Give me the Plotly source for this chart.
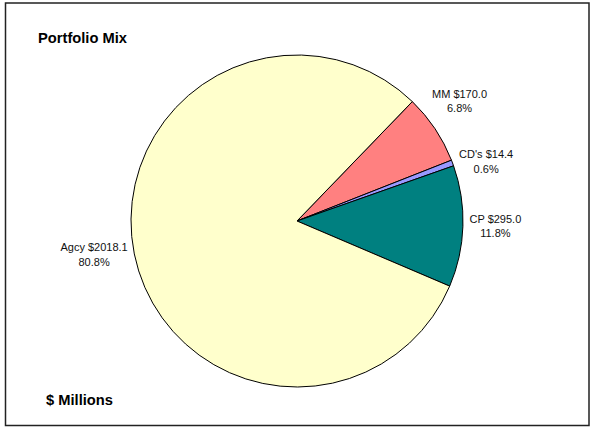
import plotly.graph_objects as go

labels = ["MM", "CD's", "CP", "Agcy"]
values = [170.0, 14.4, 295.0, 2018.1]
colors = ["#FF8080", "#9999FF", "#008080", "#FFFFCC"]
title_text = "Portfolio Mix"
footer_text = "$ Millions"

W, H = 591, 428
cx, cy, r = 297, 221, 166
FONT = "Liberation Sans, Arial"

total = sum(values)
texts = [f"{l} ${v:.1f}<br>{v / total * 100:.1f}%" for l, v in zip(labels, values)]
# MM label is placed by annotation (Excel places it higher than plotly's auto position)
textpos = ["none", "outside", "outside", "outside"]

fig = go.Figure(go.Pie(
    labels=labels,
    values=values,
    text=texts,
    textinfo="text",
    textposition=textpos,
    sort=False,
    direction="clockwise",
    rotation=44,
    marker=dict(colors=colors, line=dict(color="black", width=1)),
    outsidetextfont=dict(family=FONT, size=11, color="#111111"),
    domain=dict(x=[(cx - r) / W, (cx + r) / W], y=[(H - cy - r) / H, (H - cy + r) / H]),
    automargin=False,
    showlegend=False,
    hoverinfo="label+value+percent",
))

fig.update_layout(
    width=W, height=H,
    margin=dict(l=0, r=0, t=0, b=0),
    paper_bgcolor="white",
    plot_bgcolor="white",
    font=dict(family=FONT, color="black"),
    shapes=[dict(type="rect", xref="paper", yref="paper",
                 x0=5.5 / W, x1=589 / W, y0=1 - 425.5 / H, y1=1 - 3 / H,
                 line=dict(color="#222222", width=1.5))],
    annotations=[
        dict(text=f"<b>{title_text}</b>", xref="paper", yref="paper",
             x=36 / W, y=1 - 37.5 / H, xanchor="left", yanchor="middle",
             showarrow=False, font=dict(size=14.7, family=FONT)),
        dict(text=f"<b>{footer_text}</b>", xref="paper", yref="paper",
             x=44 / W, y=1 - 399.5 / H, xanchor="left", yanchor="middle",
             showarrow=False, font=dict(size=14.7, family=FONT)),
        dict(text=texts[0], xref="paper", yref="paper",
             x=459.5 / W, y=1 - 101 / H, xanchor="center", yanchor="middle",
             showarrow=False, align="center", font=dict(size=11, family=FONT, color="#111111")),
    ],
)

fig.write_html("out.html", config={"displayModeBar": False},
               post_script="document.body.style.margin='0';")
